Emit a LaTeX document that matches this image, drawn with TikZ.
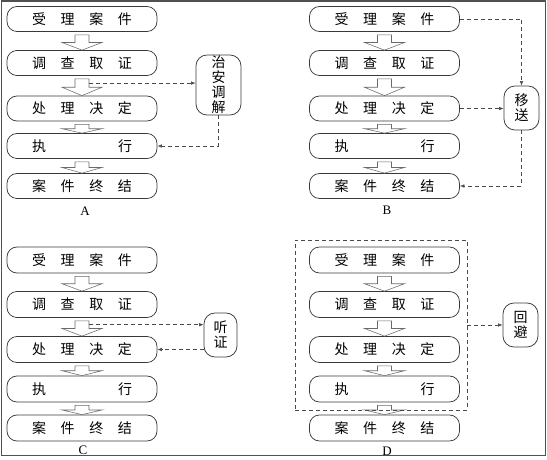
\documentclass[tikz,border=0pt]{standalone}
\usepackage{fontspec}
\setmainfont{Liberation Serif}
\newfontfamily\cjk{Noto Sans CJK SC}
\usetikzlibrary{calc,arrows.meta}
\definecolor{boxgray}{HTML}{383838}
\definecolor{arrgray}{HTML}{6A6A6A}
\definecolor{dashgray}{HTML}{4A4A4A}
\definecolor{framegray}{HTML}{505050}
\tikzset{
  stepbox/.style={draw=boxgray, line width=0.75pt, rounded corners=10pt,
    minimum width=150pt, minimum height=25pt, inner sep=0pt,
    font=\cjk\fontsize{14}{14}\selectfont},
  sidebox/.style={draw=boxgray, line width=0.75pt, rounded corners=11pt,
    inner sep=0pt, align=center, font=\cjk\fontsize{14}{15}\selectfont},
  barrow/.style={draw=arrgray, line width=0.55pt, fill=white, line join=miter},
  dconn/.style={draw=dashgray, line width=0.6pt, dash pattern=on 4pt off 3pt,
    -{Latex[length=4.5pt,width=3.5pt]}},
  dline/.style={draw=dashgray, line width=0.6pt, dash pattern=on 4pt off 3pt},
  lbl/.style={font=\fontsize{13}{13}\selectfont, inner sep=0pt},
}
\newcommand\ftext[4]{\makebox[100pt]{#1\hfill #2\hfill #3\hfill #4}}
\newcommand\ttext[2]{\makebox[100pt]{#1\hfill #2}}
% block arrow from node #1 to node #2, coordinate name #3 on shaft right side
\newcommand\blockarr[3]{%
  \draw[barrow] let \p1=(#1.south), \p2=(#2.north),
    \n1={(\y1-3pt+\y2)/2} in
    (\x1-7pt,\y1-3pt) -- (\x1+7pt,\y1-3pt)
    -- coordinate[pos=0.5] (#3) (\x1+7pt,\n1)
    -- (\x1+20pt,\n1) -- (\x1,\y2) -- (\x1-20pt,\n1)
    -- (\x1-7pt,\n1) -- cycle;}
\begin{document}
\begin{tikzpicture}[x=1pt,y=-1pt]
\useasboundingbox (0,0) rectangle (547,460);
\draw[framegray, line width=1.2pt] (1.5,1) rectangle (545.5,455.5);

% ---------- Panel A ----------
\node[stepbox] (a1) at (82,19)    {\ftext{受}{理}{案}{件}};
\node[stepbox] (a2) at (82,63)    {\ftext{调}{查}{取}{证}};
\node[stepbox] (a3) at (82,108.5) {\ftext{处}{理}{决}{定}};
\node[stepbox] (a4) at (82,146)   {\ttext{执}{行}};
\node[stepbox] (a5) at (82,186)   {\ftext{案}{件}{终}{结}};
\blockarr{a1}{a2}{pa1}
\blockarr{a2}{a3}{pa2}
\blockarr{a3}{a4}{pa3}
\blockarr{a4}{a5}{pa4}
\node[sidebox, minimum width=45pt, minimum height=60pt] (sA) at (218.5,85) {治\\安\\调\\解};
\draw[dconn] (pa2) -- (pa2 -| sA.west);
\draw[dconn] (sA.south) |- (a4.east);
\node[lbl] (lA) at (85,211) {A};

% ---------- Panel B ----------
\node[stepbox] (b1) at (384.5,19)    {\ftext{受}{理}{案}{件}};
\node[stepbox] (b2) at (384.5,63)    {\ftext{调}{查}{取}{证}};
\node[stepbox] (b3) at (384.5,108.5) {\ftext{处}{理}{决}{定}};
\node[stepbox] (b4) at (384.5,146)   {\ttext{执}{行}};
\node[stepbox] (b5) at (384.5,186)   {\ftext{案}{件}{终}{结}};
\blockarr{b1}{b2}{pb1}
\blockarr{b2}{b3}{pb2}
\blockarr{b3}{b4}{pb3}
\blockarr{b4}{b5}{pb4}
\node[sidebox, minimum width=35pt, minimum height=44pt] (sB) at (521.5,108) {移\\送};
\draw[dconn] (b1.east) -| (sB.north);
\draw[dconn] (b3.east) -- (b3.east -| sB.west);
\draw[dconn] (sB.south) |- (b5.east);
\node[lbl] (lB) at (387,210) {B};

% ---------- Panel C ----------
\node[stepbox, minimum height=26pt] (c1) at (82,260)   {\ftext{受}{理}{案}{件}};
\node[stepbox, minimum height=26pt] (c2) at (82,304.5) {\ftext{调}{查}{取}{证}};
\node[stepbox, minimum height=26pt] (c3) at (82,349.5) {\ftext{处}{理}{决}{定}};
\node[stepbox, minimum height=26pt] (c4) at (82,389)   {\ttext{执}{行}};
\node[stepbox, minimum height=26pt] (c5) at (82,428)   {\ftext{案}{件}{终}{结}};
\blockarr{c1}{c2}{pc1}
\blockarr{c2}{c3}{pc2}
\blockarr{c3}{c4}{pc3}
\blockarr{c4}{c5}{pc4}
\node[sidebox, minimum width=33pt, minimum height=44pt] (sC) at (220.5,335) {听\\证};
\draw[dconn] (pc2) -- (pc2 -| sC.west);
\draw[dconn] (c3.east -| sC.west) -- (c3.east);
\node[lbl] (lC) at (83,450) {C};

% ---------- Panel D ----------
\node[stepbox, minimum height=26pt] (d1) at (384.5,260)   {\ftext{受}{理}{案}{件}};
\node[stepbox, minimum height=26pt] (d2) at (384.5,304.5) {\ftext{调}{查}{取}{证}};
\node[stepbox, minimum height=26pt] (d3) at (384.5,349.5) {\ftext{处}{理}{决}{定}};
\node[stepbox, minimum height=26pt] (d4) at (384.5,389)   {\ttext{执}{行}};
\node[stepbox, minimum height=26pt] (d5) at (384.5,428)   {\ftext{案}{件}{终}{结}};
\blockarr{d1}{d2}{pd1}
\blockarr{d2}{d3}{pd2}
\blockarr{d3}{d4}{pd3}
\blockarr{d4}{d5}{pd4}
\node[dline, minimum width=172pt, minimum height=170pt, inner sep=0pt] (dbox) at (381,325) {};
\node[sidebox, minimum width=35pt, minimum height=44pt] (sD) at (520.5,325) {回\\避};
\draw[dconn] (dbox.east) -- (sD.west);
\node[lbl] (lD) at (387,451) {D};
\end{tikzpicture}
\end{document}
